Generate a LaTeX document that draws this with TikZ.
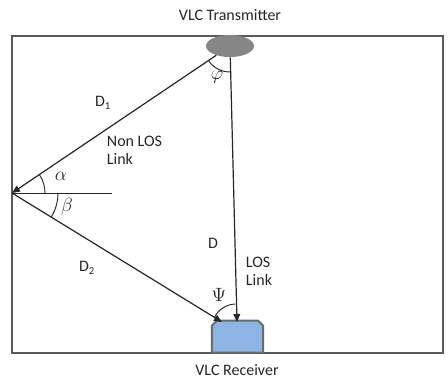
\documentclass[tikz,border=0pt]{standalone}
\usepackage{fontspec}
\setmainfont{Carlito}
\usepackage{xcolor}
\usepackage{tikz}
\usetikzlibrary{arrows.meta,shapes.geometric,calc}
\definecolor{rxblue}{HTML}{8EB4E3}
\definecolor{rxedge}{HTML}{6B6B6B}
\definecolor{framegray}{HTML}{5A5A5A}
\tikzset{
  vlcframe/.style={draw=framegray,line width=1.4pt},
  vlcsource/.style={
    ellipse, draw=none, fill=gray!95,
    minimum width=36pt, minimum height=16.5pt, inner sep=0pt
  },
  vlcdetector/.style={
    rectangle, draw=none,
    minimum width=38pt, minimum height=23.5pt, inner sep=0pt
  },
  vlcdetectorbody/.style={draw=rxedge, fill=rxblue, line width=1.5pt, line join=round},
  vlcedge/.style={-{Triangle[length=6pt,width=5pt]},line width=0.9pt,black!85},
  vlcplain/.style={line width=0.75pt,black!85},
  vlcangle/.style={line width=0.7pt,black!85},
  vlctext/.style={font=\fontsize{12}{13.5}\selectfont,text=black!85,inner sep=0pt},
  vlcgreek/.style={font=\fontsize{13.5}{15}\selectfont,text=black!85,inner sep=0pt}
}

\begin{document}
\begin{tikzpicture}[x=0.75pt,y=0.75pt]
  \useasboundingbox (0,0) rectangle (448,380);

  % room outline
  \node[inner sep=0pt] (roomsw) at (12,27) {};
  \node[inner sep=0pt] (roomne) at (443,344) {};
  \draw[vlcframe] (roomsw.center) rectangle (roomne.center);

  % transmitter on the ceiling, receiver on the floor
  \node[vlcsource] (tx) at (230,334) {};
  \node[vlcdetector,anchor=south] (rx) at (237.5,27.5) {};
  % receiver body with its two top corners cut off
  \draw[vlcdetectorbody] (rx.south west) -- ($(rx.north west)+(0,-5)$)
    -- ($(rx.north west)+(5,0)$) -- ($(rx.north east)+(-5,0)$)
    -- ($(rx.north east)+(0,-5)$) -- (rx.south east) -- cycle;
  \node[vlctext] (txname) at (230,365) {VLC Transmitter};
  \node[vlctext] (rxname) at (237,10) {VLC Receiver};

  % reflection point on the wall and arrow ends on the receiver
  \coordinate (wall) at (12,187);
  \coordinate (wallnormal) at (112,187);
  \coordinate (loshit) at (237,58);
  \coordinate (nloshit) at (222,58);

  % links
  \draw[vlcedge] (tx) -- (wall);
  \draw[vlcplain] (wall) -- (wallnormal);
  \draw[vlcedge] (wall) -- (nloshit);
  \draw[vlcedge] (tx) -- (loshit);

  % angles
  \draw[vlcangle] (tx.center) ++(214:19.5pt) arc[start angle=214,end angle=271,radius=19.5pt];
  \draw[vlcangle] (wall) ++(0:24.75pt) arc[start angle=0,end angle=34,radius=24.75pt];
  \draw[vlcangle] (wall) ++(-31.6:34.5pt) arc[start angle=-31.6,end angle=0,radius=34.5pt];
  \draw[vlcangle] ($(loshit)+(-1,-6)$) ++(155:18pt) arc[start angle=155,end angle=92,radius=18pt];

  % labels
  \node[vlctext] (dnlos1) at (103,277) {D\textsubscript{1}};
  \node[vlctext] (dnlos2) at (87,112) {D\textsubscript{2}};
  \node[vlctext] (dlos) at (213,137) {D};
  \node[vlctext,align=left] (nloslbl) at (134.5,230) {Non LOS\\Link};
  \node[vlctext,align=left] (loslbl) at (259,108.5) {LOS\\Link};
  \node[vlcgreek] (phi) at (217,303) {$\varphi$};
  \node[vlcgreek] (alpha) at (61,204) {$\alpha$};
  \node[vlcgreek] (beta) at (67,173) {$\beta$};
  \node[vlcgreek] (psi) at (219,85) {$\Psi$};
\end{tikzpicture}
\end{document}
